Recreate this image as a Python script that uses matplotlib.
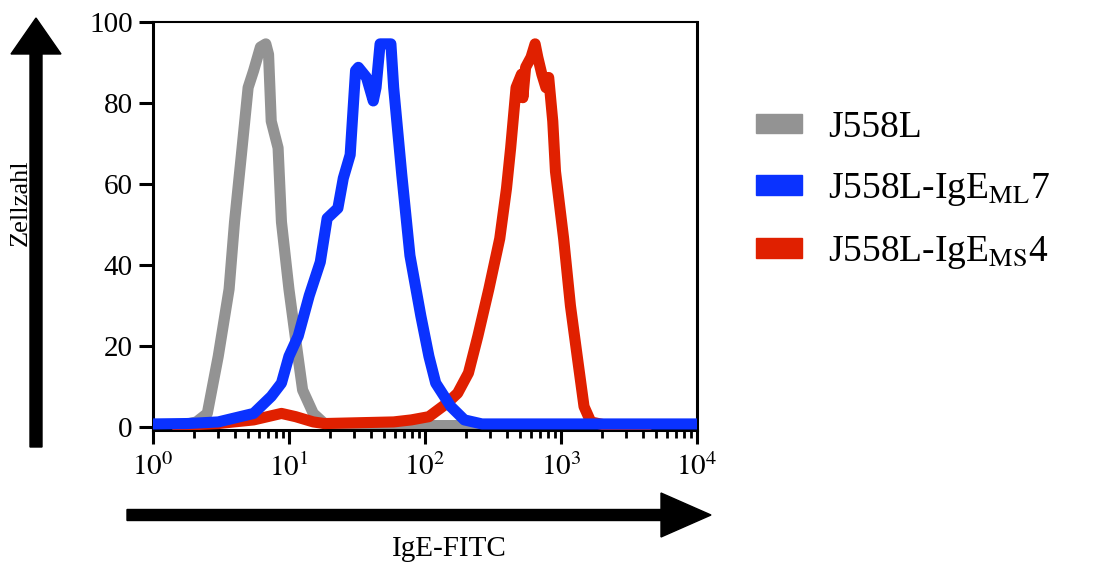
import matplotlib.pyplot as plt
import matplotlib.patches as mpatches
import numpy as np

plt.rcParams['font.family'] = ['Liberation Serif', 'DejaVu Serif']
plt.rcParams['mathtext.fontset'] = 'stix'

# fluorescence intensity (IgE-FITC) and cell count per curve
gray_x = [1.6, 2.09, 2.51, 3.02, 3.63, 3.98, 4.47, 5.01, 5.50, 6.17, 6.76, 7.08,
          7.41, 8.32, 8.81, 10.0, 11.2, 12.6, 15.1, 18.2, 31.6, 100, 501]
gray_y = [0.3, 1.2, 3.3, 17.4, 34.0, 50.6, 67.2, 83.8, 88.0, 93.8, 94.6, 92.0,
          75.5, 68.9, 50.6, 34.0, 21.6, 9.1, 3.3, 0.8, 0.4, 0.3, 0.3]

blue_x = [1.0, 1.78, 3.02, 5.50, 7.41, 8.81, 10.0, 11.7, 14.1, 17.0, 19.1, 22.9,
          25.1, 28.2, 30.9, 32.4, 37.2, 41.7, 43.7, 46.8, 56.2, 58.9, 67.6, 77.6,
          93.3, 107, 120, 155, 195, 263, 10000]
blue_y = [0.7, 0.8, 1.2, 3.3, 7.5, 10.8, 17.4, 22.4, 32.4, 40.7, 51.5, 54.0,
          61.4, 67.2, 88.0, 88.8, 86.3, 80.5, 83.8, 94.6, 94.6, 83.8, 62.2, 42.3,
          27.4, 17.4, 10.8, 5.0, 1.7, 0.7, 0.7]

red_x = [1.48, 3.02, 5.50, 8.81, 11.2, 15.1, 18.2, 58.9, 79.4, 107, 145, 174,
         209, 245, 295, 355, 398, 427, 468, 513, 525, 550, 603, 646, 676, 724,
         776, 813, 871, 912, 1047, 1175, 1318, 1479, 1660, 2138, 4365]
red_y = [0.3, 0.8, 1.7, 3.3, 2.5, 1.2, 0.8, 1.2, 1.7, 2.5, 5.8, 8.3,
         13.3, 22.4, 34.0, 46.5, 58.9, 68.9, 83.8, 87.1, 81.3, 88.8, 91.3, 94.6,
         91.3, 87.1, 83.8, 86.3, 75.5, 63.1, 46.5, 29.9, 17.4, 5.0, 1.2, 0.4, 0.4]

labels = ['J558L', r'J558L-IgE$_\mathrm{ML}$7', r'J558L-IgE$_\mathrm{MS}$4']
colors = ['#939393', '#0a32ff', '#e02000']

fig = plt.figure(figsize=(10.98, 5.63), dpi=100)
ax = fig.add_axes([0.1393, 0.2362, 0.4954, 0.7247])

lw = 8
ax.plot(gray_x, gray_y, color=colors[0], lw=lw, solid_joinstyle='round',
        solid_capstyle='round', zorder=2)
ax.plot(red_x, red_y, color=colors[2], lw=lw, solid_joinstyle='round',
        solid_capstyle='round', zorder=3)
ax.plot(blue_x, blue_y, color=colors[1], lw=lw, solid_joinstyle='round',
        solid_capstyle='round', zorder=4)

ax.set_xscale('log')
ax.set_xlim(1, 10000)
ax.set_ylim(-0.8, 100)
ax.set_yticks([0, 20, 40, 60, 80, 100])
ax.set_xticks([1, 10, 100, 1000, 10000])
ax.set_xticklabels([r'$\mathrm{10^{%d}}$' % i for i in range(5)])
ax.tick_params(axis='both', which='major', direction='out', length=10,
               width=2.2, labelsize=21, pad=4.5)
ax.tick_params(axis='x', which='major', pad=7)
ax.tick_params(axis='x', which='minor', direction='out', length=6, width=2)
for side in ['left', 'bottom', 'right']:
    ax.spines[side].set_linewidth(2.2)
ax.spines['top'].set_linewidth(1.5)

handles = [mpatches.Patch(color=c) for c in colors]
fig.legend(handles, labels, loc='upper left', bbox_to_anchor=(0.6885, 0.804),
           frameon=False, fontsize=27, handlelength=1.23, handleheight=0.43,
           handletextpad=0.7, labelspacing=0.7, borderpad=0,
           borderaxespad=0)

# decorative arrows and axis captions in pixel space
ov = fig.add_axes([0, 0, 1, 1], zorder=-1)
ov.set_xlim(0, 1098)
ov.set_ylim(563, 0)
ov.axis('off')
ov.add_patch(mpatches.FancyArrow(36, 447, 0, -429, width=12, head_width=50,
                                 head_length=36, length_includes_head=True,
                                 color='black', zorder=3))
ov.add_patch(mpatches.FancyArrow(127, 515, 584, 0, width=11, head_width=44,
                                 head_length=50, length_includes_head=True,
                                 color='black', zorder=3))
ov.text(21, 203, 'Zellzahl', rotation=90, ha='center', va='center',
        fontsize=19, zorder=1)
ov.text(449, 549, 'IgE-FITC', ha='center', va='center', fontsize=21)

fig.savefig('out.png', dpi=100)
